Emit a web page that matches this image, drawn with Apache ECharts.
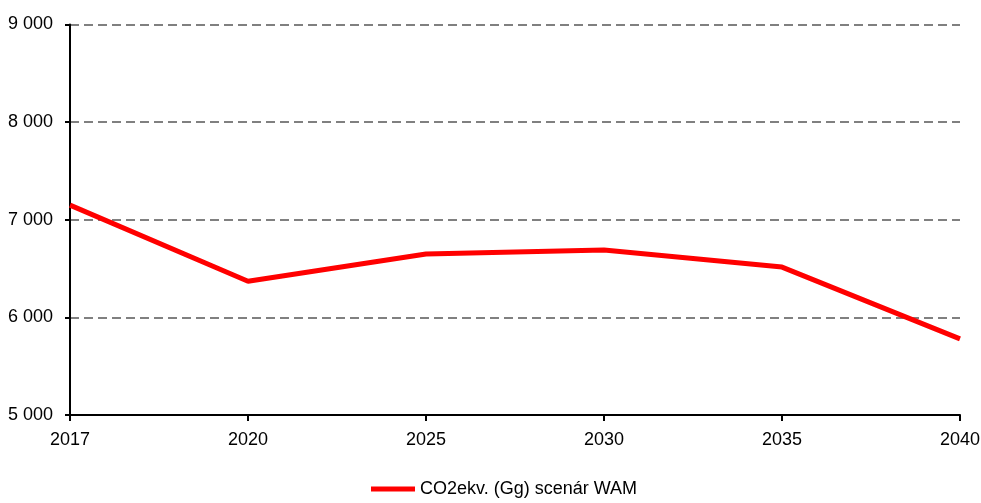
<!DOCTYPE html>
<html><head><meta charset="utf-8">
<script src="https://cdn.jsdelivr.net/npm/echarts@6/dist/echarts.min.js"></script>
<style>html,body{margin:0;padding:0;background:#fff}#c{width:981px;height:503px}</style>
</head><body><div id="c"></div>
<script>
const categories = ['2017','2020','2025','2030','2035','2040'];
const seriesName = 'CO2ekv. (Gg) scenár WAM';
const values = [7150, 6370, 6650, 6690, 6515, 5780];
const yMin = 5000, yMax = 9000, yStep = 1000;

const chart = echarts.init(document.getElementById('c'));
const fontFam = '"Liberation Sans", Arial, sans-serif';
chart.setOption({
  animation: false,
  backgroundColor: '#fff',
  grid: {left: 70, right: 21, top: 24.5, bottom: 88, containLabel: false, outerBoundsMode: 'none'},
  legend: {
    bottom: 0, left: 366,
    itemWidth: 44, itemHeight: 5, itemGap: 10,
    icon: 'rect',
    textStyle: {fontFamily: fontFam, fontSize: 18, color: '#000', padding: [0,0,0,0]},
    data: [seriesName]
  },
  xAxis: {
    type: 'category', data: categories, boundaryGap: false,
    axisLine: {lineStyle: {color: '#000', width: 2}},
    axisTick: {show: true, length: 6, lineStyle: {color: '#000', width: 2}},
    axisLabel: {fontFamily: fontFam, fontSize: 18, color: '#000', margin: 16},
    splitLine: {show: false}
  },
  yAxis: {
    type: 'value', min: yMin, max: yMax, interval: yStep,
    axisLine: {show: true, lineStyle: {color: '#000', width: 2}},
    axisTick: {show: true, length: 5, lineStyle: {color: '#000', width: 2}},
    axisLabel: {fontFamily: fontFam, fontSize: 18, color: '#000', margin: 17,
      formatter: v => String(v).replace(/\B(?=(\d{3})+(?!\d))/g, ' ')},
    splitLine: {show: true, lineStyle: {color: '#808080', width: 2, type: [9,5]}}
  },
  series: [{
    name: seriesName, type: 'line', data: values,
    symbol: 'none', lineStyle: {color: '#ff0000', width: 5},
    itemStyle: {color: '#ff0000'}
  }]
});
</script></body></html>
